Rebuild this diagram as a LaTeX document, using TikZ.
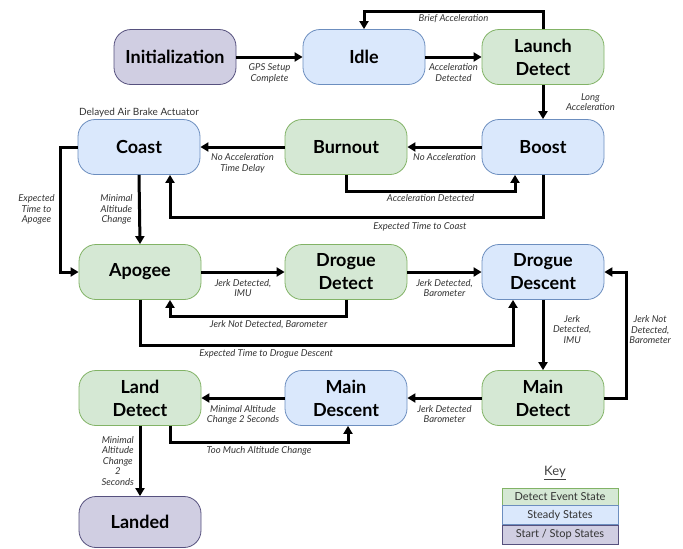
\documentclass[tikz,border=0pt]{standalone}
\usepackage{fontspec}
\setmainfont{Lato}
\usetikzlibrary{arrows.meta,calc}

\definecolor{gfill}{HTML}{D5E8D4}
\definecolor{gline}{HTML}{82B366}
\definecolor{bfill}{HTML}{DAE8FC}
\definecolor{bline}{HTML}{6C8EBF}
\definecolor{pfill}{HTML}{D0CEE2}
\definecolor{pline}{HTML}{56517E}

\tikzset{
  state/.style={rectangle, rounded corners=17pt, minimum width=122pt,
    minimum height=55pt, line width=0.8pt, inner sep=0pt, align=center,
    font=\fontsize{18}{23}\selectfont\bfseries},
  detect/.style={state, fill=gfill, draw=gline},
  steady/.style={state, fill=bfill, draw=bline},
  term/.style={state, fill=pfill, draw=pline},
  edge/.style={line width=3pt, line join=miter, -{Triangle[length=8pt,width=9pt]}},
  lbl/.style={font=\fontsize{9.5}{10.5}\selectfont\itshape, align=center,
    text=black!80, inner sep=1.5pt},
  keyrow/.style={rectangle, minimum width=116pt, line width=0.6pt,
    inner sep=0pt, font=\fontsize{11}{12}\selectfont, text=black!80}
}

\begin{document}
\begin{tikzpicture}[x=1pt,y=-1pt]
\useasboundingbox (0,0) rectangle (683,549);

% states
\node[term]   (init)     at (175,57)  {Initialization};
\node[steady] (idle)     at (364,57)  {Idle};
\node[detect] (launch)   at (543,57)  {Launch\\Detect};
\node[steady] (boost)    at (543,147) {Boost};
\node[detect] (burnout)  at (346,147) {Burnout};
\node[steady] (coast)    at (139,147) {Coast};
\node[detect] (apogee)   at (140,272) {Apogee};
\node[detect] (ddetect)  at (346,272) {Drogue\\Detect};
\node[steady] (ddescent) at (543,272) {Drogue\\Descent};
\node[detect] (mdetect)  at (543,398) {Main\\Detect};
\node[steady] (mdescent) at (346,398) {Main\\Descent};
\node[detect] (ldetect)  at (140,398) {Land\\Detect};
\node[term, minimum height=51pt] (landed) at (140,522) {Landed};

\node[lbl, font=\fontsize{10}{11}\selectfont, above=0pt] (coastnote) at (coast.north) {Delayed Air Brake Actuator};

% transitions
\draw[edge] (init.east) -- node[lbl, below=4pt] {GPS Setup\\Complete} (idle.west);
\draw[edge] (idle.east) -- node[lbl, below=4pt] {Acceleration\\Detected} (launch.west);
\draw[edge] (launch.north) |- node[lbl, below, pos=0.75] {Brief Acceleration}
  ($(idle.north)+(0,-17.5)$) -- (idle.north);
\draw[edge] (launch.south) -- node[lbl, right=20pt] {Long\\Acceleration} (boost.north);

\draw[edge] (boost.west) -- node[lbl, below=4pt] {No Acceleration} (burnout.east);
\draw[edge] (burnout.south) |- node[lbl, below, pos=0.75] {Acceleration Detected}
  ($(boost.south)+(-28,17)$) -- ($(boost.south)+(-28,0)$);
\draw[edge] (burnout.west) -- node[lbl, below=4pt] {No Acceleration\\Time Delay} (coast.east);
\draw[edge] (boost.south) |- node[lbl, below=2pt, pos=0.665] {Expected Time to Coast}
  ($(coast.south)+(31,43)$) -- ($(coast.south)+(31,0)$);

\draw[edge] (coast.south) -- node[lbl, left=4pt] {Minimal\\Altitude\\Change} (apogee.north);
\draw[edge] (coast.west) -- ++(-17,0) |- node[lbl, left=3pt, pos=0.25] {Expected\\Time to\\Apogee} (apogee.west);

\draw[edge] (apogee.east) -- node[lbl, below=4pt] {Jerk Detected,\\IMU} (ddetect.west);
\draw[edge] (ddetect.south) |- node[lbl, below=1pt, pos=0.72] {Jerk Not Detected, Barometer}
  ($(apogee.south)+(30,17)$) -- ($(apogee.south)+(30,0)$);
\draw[edge] (apogee.south) |- node[lbl, below=1pt, pos=0.669] {Expected Time to Drogue Descent}
  ($(ddescent.south)+(-30,45.5)$) -- ($(ddescent.south)+(-30,0)$);
\draw[edge] (ddetect.east) -- node[lbl, below=4pt] {Jerk Detected,\\Barometer} (ddescent.west);

\draw[edge] (ddescent.south) -- node[lbl, right=7pt, pos=0.42] {Jerk\\Detected,\\IMU} (mdetect.north);
\draw[edge] (mdetect.east) -- ++(22,0) |- node[lbl, right=0pt, pos=0.27] {Jerk Not\\Detected,\\Barometer} (ddescent.east);
\draw[edge] (mdetect.west) -- node[lbl, below=4pt] {Jerk Detected\\Barometer} (mdescent.east);

\draw[edge] (mdescent.west) -- node[lbl, below=4pt] {Minimal Altitude\\Change 2 Seconds} (ldetect.east);
\draw[edge] ($(ldetect.south)+(30,0)$) |- node[lbl, below=1pt, pos=0.75] {Too Much Altitude Change}
  ($(mdescent.south)+(2,17)$) -- ($(mdescent.south)+(2,0)$);
\draw[edge] (ldetect.south) -- node[lbl, left=3pt] {Minimal\\Altitude\\Change\\2\\Seconds} (landed.north);

% key
\node[font=\fontsize{13}{14}\selectfont, text=black!75] (keytitle) at (555,473) {\underline{Key}};
\node[keyrow, fill=gfill, draw=gline, minimum height=17pt] (keyg) at (560,496.5) {Detect Event State};
\node[keyrow, fill=bfill, draw=bline, minimum height=19pt, anchor=north] (keyb) at (keyg.south) {Steady States};
\node[keyrow, fill=pfill, draw=pline, minimum height=19pt, anchor=north] (keyp) at (keyb.south) {Start / Stop States};
\end{tikzpicture}
\end{document}
